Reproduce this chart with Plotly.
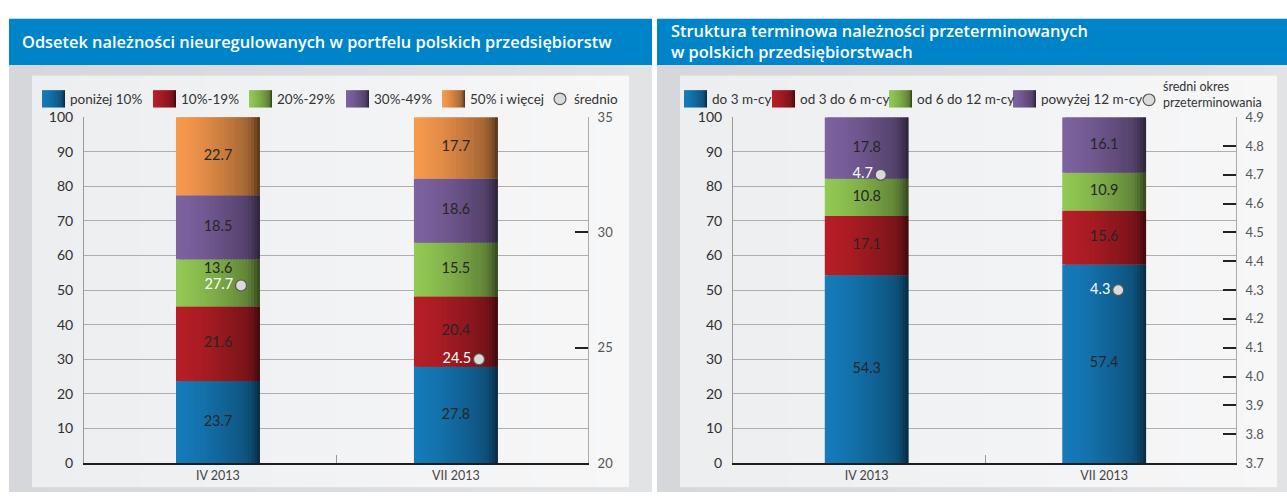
import base64
import struct
import zlib
import plotly.graph_objects as go

W, H = 1287, 500

periods = ["IV 2013", "VII 2013"]

# lewy wykres
left_title = "Odsetek należności nieuregulowanych w portfelu polskich przedsiębiorstw"
left_names = ["poniżej 10%", "10%-19%", "20%-29%", "30%-49%", "50% i więcej"]
left_values = [
    [23.7, 27.8],
    [21.6, 20.4],
    [13.6, 15.5],
    [18.5, 18.6],
    [22.7, 17.7],
]
left_avg = [27.7, 24.5]
left_avg_name = "średnio"

# prawy wykres
right_title = "Struktura terminowa należności przeterminowanych<br>w polskich przedsiębiorstwach"
right_names = ["do 3 m-cy", "od 3 do 6 m-cy", "od 6 do 12 m-cy", "powyżej 12 m-cy"]
right_values = [
    [54.3, 57.4],
    [17.1, 15.6],
    [10.8, 10.9],
    [17.8, 16.1],
]
right_avg = [4.7, 4.3]
right_avg_name = "średni okres<br>przeterminowania"

colors = ["#157bba", "#b71e26", "#92c854", "#7d62a0", "#f7994d"]

FONT = "Lato"
N_SLICES = 28
BAR_W = 0.353


def px(x):
    return x / W


def py(y):
    return 1 - y / H


def rgb(hexc):
    hexc = hexc.lstrip("#")
    return [int(hexc[i:i + 2], 16) for i in (0, 2, 4)]


def shade(t):
    # ciemnienie słupka od lewej do prawej
    return 0.42 * t ** 1.4 + 0.25 * max(0, (t - 0.8) / 0.2) ** 2


def darken(hexc, a):
    r, g, b = rgb(hexc)
    return (round(r * (1 - a)), round(g * (1 - a)), round(b * (1 - a)))


def png_uri(row):
    # jednowierszowy obrazek RGBA
    w = len(row)
    raw = b"\x00" + bytes(v for px_ in row for v in px_)

    def chunk(t, d):
        return struct.pack(">I", len(d)) + t + d + struct.pack(">I", zlib.crc32(t + d) & 0xffffffff)

    data = (b"\x89PNG\r\n\x1a\n"
            + chunk(b"IHDR", struct.pack(">IIBBBBB", w, 1, 8, 6, 0, 0, 0))
            + chunk(b"IDAT", zlib.compress(raw))
            + chunk(b"IEND", b""))
    return "data:image/png;base64," + base64.b64encode(data).decode()


def lin_grad(c0, c1, n=64):
    a, b = rgb(c0), rgb(c1)
    return [tuple(round(a[j] + (b[j] - a[j]) * i / (n - 1)) for j in range(3)) + (255,) for i in range(n)]


def bar_grad(hexc, n=64):
    return [darken(hexc, shade(i / (n - 1))) + (255,) for i in range(n)]


def img(row, x0, y0, x1, y1, layer="below"):
    return dict(source=png_uri(row), xref="paper", yref="paper", x=px(x0), y=py(y0),
                sizex=px(x1) - px(x0), sizey=py(y0) - py(y1), xanchor="left", yanchor="top",
                sizing="stretch", layer=layer)


fig = go.Figure()


def add_chart(xref, yref, y2ref, values, avg, lo, hi, avg_dx):
    xs = list(range(len(periods)))
    bases = [0] * len(xs)
    p_avg = [(a - lo) / (hi - lo) * 100 for a in avg]
    lx, ly, lt = [], [], []
    for k, vals in enumerate(values):
        w = BAR_W / N_SLICES
        for i in range(N_SLICES):
            c = darken(colors[k], shade((i + 0.5) / N_SLICES))
            fig.add_trace(go.Bar(
                x=xs, y=vals, base=list(bases),
                width=w * (1.8 if i < N_SLICES - 1 else 1), offset=-BAR_W / 2 + i * w,
                marker=dict(color="rgb(%d,%d,%d)" % c, line=dict(width=0)),
                xaxis=xref, yaxis=yref, hoverinfo="skip", showlegend=False))
        for j, v in enumerate(vals):
            cy = bases[j] + v / 2
            if abs(cy - p_avg[j]) < 5:
                cy = p_avg[j] + 4.8
            lx.append(xs[j])
            ly.append(cy)
            lt.append(f"{v:.1f}")
        bases = [b + v for b, v in zip(bases, vals)]
    fig.add_trace(go.Scatter(x=lx, y=ly, text=lt, mode="text", textposition="middle center",
                             textfont=dict(size=14.5, color="#262626"),
                             xaxis=xref, yaxis=yref, hoverinfo="skip", showlegend=False))
    fig.add_trace(go.Scatter(x=[x + avg_dx for x in xs], y=avg, text=[f"{a:.1f}" for a in avg],
                             mode="markers+text", textposition="middle left",
                             textfont=dict(size=14.5, color="white"),
                             marker=dict(size=11, color="#dadada", line=dict(color="#555", width=1.2)),
                             xaxis=xref, yaxis=y2ref, hoverinfo="skip", showlegend=False, cliponaxis=False))


add_chart("x", "y", "y2", left_values, left_avg, 20, 35, 0.097)
add_chart("x2", "y3", "y4", right_values, right_avg, 3.7, 4.9, 0.059)

# tła paneli
images = [
    img(lin_grad("#d6d7da", "#e2e3e5"), 9, 58, 652, 500),
    img(lin_grad("#eceef0", "#f7f7f8"), 32, 69, 629, 495),
    img(lin_grad("#d6d7da", "#e2e3e5"), 657, 58, 1287, 500),
    img(lin_grad("#eceef0", "#f7f7f8"), 680, 69, 1277, 495),
]

shapes = [
    dict(type="rect", xref="paper", yref="paper", x0=px(9), x1=px(652), y0=py(58), y1=py(10),
         fillcolor="#0084c9", line=dict(width=0), layer="below"),
    dict(type="rect", xref="paper", yref="paper", x0=px(657), x1=px(1287), y0=py(58), y1=py(10),
         fillcolor="#0084c9", line=dict(width=0), layer="below"),
]

annotations = [
    dict(text=left_title, x=px(20), y=py(34), xref="paper", yref="paper", xanchor="left", yanchor="middle",
         showarrow=False, font=dict(family="Open Sans", size=16.4, color="white", weight=600)),
    dict(text=right_title, x=px(669), y=py(33), xref="paper", yref="paper", xanchor="left", yanchor="middle",
         align="left", showarrow=False, font=dict(family="Open Sans", size=16.4, color="white", weight=600)),
]

# legendy
legend_left_x = [42, 153, 249, 346, 442]
legend_right_x = [684, 772, 889, 1013]
for names, xs_ in ((left_names, legend_left_x), (right_names, legend_right_x)):
    for k, (name, x0) in enumerate(zip(names, xs_)):
        images.append(img(bar_grad(colors[k]), x0, 84, x0 + 23, 102, layer="above"))
        annotations.append(dict(text=name, x=px(x0 + 26), y=py(93), xref="paper", yref="paper",
                                xanchor="left", yanchor="middle", showarrow=False,
                                font=dict(size=13.5, color="#333")))

for cx, cy, name, tx, ty, fs in ((560, 93, left_avg_name, 572, 93, 13.5),
                                 (1149, 94, right_avg_name, 1161, 89, 12.5)):
    shapes.append(dict(type="circle", xref="paper", yref="paper", x0=px(cx - 6), x1=px(cx + 6),
                       y0=py(cy + 6), y1=py(cy - 6), fillcolor="#dadada", line=dict(color="#555", width=1.2),
                       layer="above"))
    annotations.append(dict(text=name, x=px(tx), y=py(ty), xref="paper", yref="paper",
                            xanchor="left", yanchor="middle", align="left", showarrow=False,
                            font=dict(size=fs, color="#333")))

ydom = [py(470), py(112)]
xaxis_common = dict(range=[-0.563, 1.555], tickvals=[0, 1], ticktext=periods, showgrid=False,
                    zeroline=False, showline=True, linecolor="#1e1e1e", linewidth=2, ticks="",
                    tickfont=dict(size=12.5, color="#444"),
                    minor=dict(tickmode="array", tickvals=[0.5], ticks="inside", ticklen=8, tickcolor="#999"))
yaxis_common = dict(domain=ydom, range=[0, 100], dtick=10, showgrid=True, gridcolor="#aeaeae", gridwidth=1,
                    zeroline=False, showline=True, linecolor="#999", linewidth=1, ticks="",
                    ticklabelstandoff=7, tickfont=dict(size=14, color="#2e2e2e"))
y2_common = dict(side="right", showgrid=False, zeroline=False, showline=True, linecolor="#aaa",
                 ticks="inside", ticklen=13, tickwidth=2, tickcolor="#222",
                 ticklabelstandoff=6, tickfont=dict(size=13, color="#555"))

fig.update_layout(
    width=W, height=H, margin=dict(l=0, r=0, t=0, b=0),
    paper_bgcolor="white", plot_bgcolor="rgba(0,0,0,0)",
    barmode="overlay", showlegend=False,
    font=dict(family=FONT, color="#333"),
    xaxis=dict(domain=[px(84), px(588)], anchor="y", **xaxis_common),
    yaxis=dict(anchor="x", **yaxis_common),
    yaxis2=dict(overlaying="y", anchor="x", range=[20, 35], dtick=5, **y2_common),
    xaxis2=dict(domain=[px(733), px(1236)], anchor="y3", **xaxis_common),
    yaxis3=dict(anchor="x2", **yaxis_common),
    yaxis4=dict(overlaying="y3", anchor="x2", range=[3.7, 4.9], dtick=0.1, tickformat=".1f", **y2_common),
    images=images, shapes=shapes, annotations=annotations,
)

# bez marginesu strony, żeby wykres zajął całe okno
fig.write_html("out.html", config={"displayModeBar": False},
               post_script="document.body.style.margin='0';document.body.style.overflow='hidden';")
